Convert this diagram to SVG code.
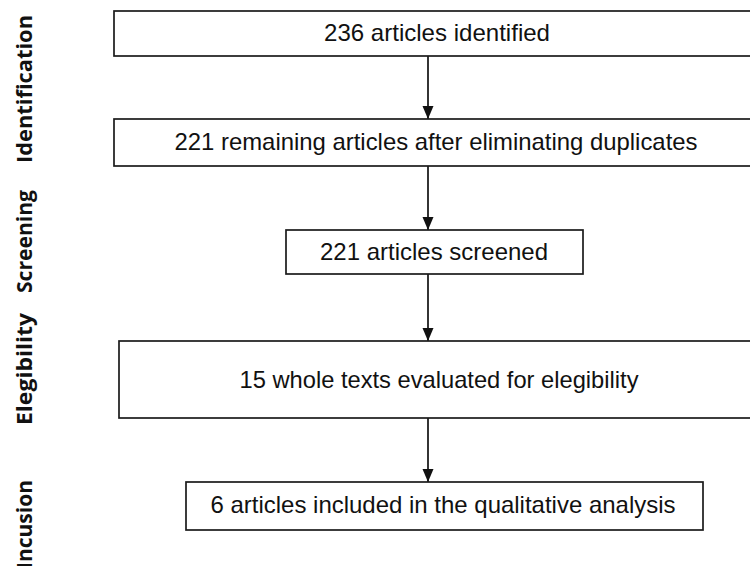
<svg xmlns="http://www.w3.org/2000/svg" width="750" height="566" viewBox="0 0 750 566">
<style>
.box{fill:#fff;stroke:#1a1a1a;stroke-width:1.7}
.t{font-family:"Liberation Sans",Arial,sans-serif;font-size:24px;fill:#111;text-anchor:middle}
.lab{font-family:"Open Sans","Noto Sans",sans-serif;font-weight:bold;font-size:21px;fill:#111}
.conn{stroke:#111;stroke-width:1.7;fill:none}
</style>
<defs>
<marker id="arr" markerWidth="12" markerHeight="13" refX="13" refY="5.5" orient="auto" markerUnits="userSpaceOnUse">
<path d="M0,0 L13,5.5 L0,11 Z" fill="#111"/>
</marker>
</defs>
<g id="labels">
<text class="lab" transform="translate(32,163) rotate(-90)" textLength="148" lengthAdjust="spacingAndGlyphs">Identification</text>
<text class="lab" transform="translate(32,293) rotate(-90)" textLength="103" lengthAdjust="spacingAndGlyphs">Screening</text>
<text class="lab" transform="translate(32,425) rotate(-90)" textLength="112" lengthAdjust="spacingAndGlyphs">Elegibility</text>
<text class="lab" transform="translate(32,480) rotate(-90)" text-anchor="end">Incusion</text>
</g>
<g id="connectors">
<line class="conn" x1="428" y1="56" x2="428" y2="119" marker-end="url(#arr)"/>
<line class="conn" x1="428" y1="166" x2="428" y2="230" marker-end="url(#arr)"/>
<line class="conn" x1="428" y1="274" x2="428" y2="341" marker-end="url(#arr)"/>
<line class="conn" x1="428" y1="418" x2="428" y2="482" marker-end="url(#arr)"/>
</g>
<g id="n1">
<rect class="box" x="114" y="11" width="640" height="45"/>
<text class="t" x="437" y="41" textLength="226" lengthAdjust="spacingAndGlyphs">236 articles identified</text>
</g>
<g id="n2">
<rect class="box" x="114" y="119" width="640" height="47"/>
<text class="t" x="436" y="150" textLength="523" lengthAdjust="spacingAndGlyphs">221 remaining articles after eliminating duplicates</text>
</g>
<g id="n3">
<rect class="box" x="286" y="230" width="297" height="44"/>
<text class="t" x="434" y="260" textLength="228" lengthAdjust="spacingAndGlyphs">221 articles screened</text>
</g>
<g id="n4">
<rect class="box" x="119" y="341" width="640" height="77"/>
<text class="t" x="439" y="388" textLength="399" lengthAdjust="spacingAndGlyphs">15 whole texts evaluated for elegibility</text>
</g>
<g id="n5">
<rect class="box" x="186" y="482" width="517" height="48"/>
<text class="t" x="443" y="513" textLength="465" lengthAdjust="spacingAndGlyphs">6 articles included in the qualitative analysis</text>
</g>
</svg>
